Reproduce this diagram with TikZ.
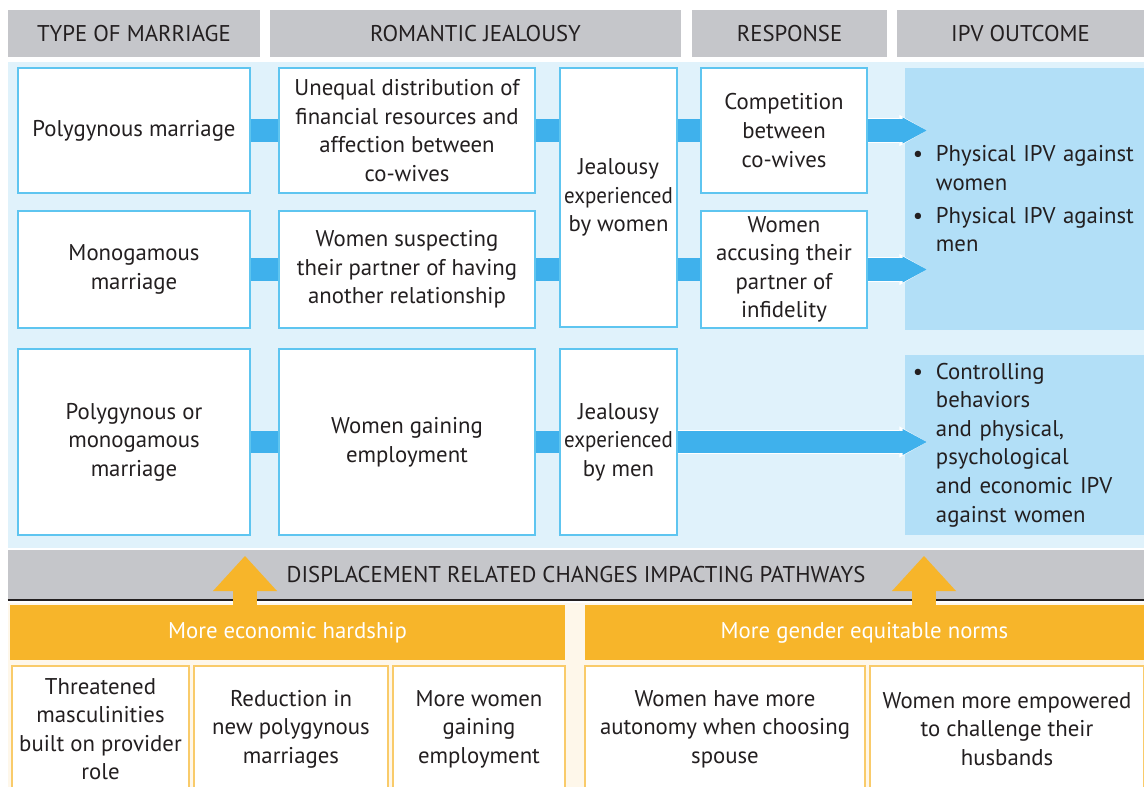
\documentclass[tikz,border=0pt]{standalone}
\usepackage{fontspec}
\setmainfont{PT Sans}
\usepackage{xcolor}
\usepackage{tikz}
\definecolor{headgray}{RGB}{197,198,202}
\definecolor{panelblue}{RGB}{224,242,251}
\definecolor{edgeblue}{RGB}{94,197,240}
\definecolor{barblue}{RGB}{63,177,236}
\definecolor{outblue}{RGB}{178,223,247}
\definecolor{hardorange}{RGB}{247,181,42}
\definecolor{edgeorange}{RGB}{249,203,106}
\definecolor{cream}{RGB}{254,247,234}
\definecolor{inkgray}{RGB}{35,31,32}
\usetikzlibrary{arrows.meta, calc}
\newcommand{\itemdot}{\makebox[0.575cm][l]{\textbullet}}
\newcommand{\itemgap}{\hspace*{0.575cm}}
\newcommand{\squeeze}[1]{\scalebox{0.92}[1]{#1}}

\begin{document}
\begin{tikzpicture}[x=0.025cm, y=-0.025cm,
    every node/.style={font=\fontsize{16.2}{20.3}\selectfont, text=inkgray, align=center, inner sep=0pt},
    header/.style={rectangle, fill=headgray, minimum height=1.175cm},
    bluebox/.style={rectangle, draw=edgeblue, fill=white, line width=1pt},
    outcome/.style={rectangle, fill=outblue, minimum width=5.975cm, text width=5.575cm, align=left},
    orangeband/.style={rectangle, fill=hardorange, minimum height=1.375cm, text=white},
    orangebox/.style={rectangle, draw=edgeorange, fill=white, line width=1pt, minimum height=3.15cm},
    link/.style={draw=barblue, line width=0.55cm},
    outlink/.style={link, -{Triangle[width=0.65cm, length=0.6cm, line width=0pt]},
        preaction={draw=white, line width=0.6cm, -{Triangle[width=0.78cm, length=0.68cm, line width=0pt]}}},
    push/.style={draw=hardorange, line width=0.6cm, -{Triangle[width=1.6cm, length=0.875cm, line width=0pt]}}
]
    \useasboundingbox (0,0) rectangle (1144,787);
    \fill[panelblue] (8,62) rectangle (1144,548);

    % column headers
    \node[header, minimum width=6.3cm] (h1) at (134,33.5) {TYPE OF MARRIAGE};
    \node[header, minimum width=10.275cm] (h2) at (475.5,33.5) {ROMANTIC JEALOUSY};
    \node[header, minimum width=4.875cm] (h3) at (789.5,33.5) {RESPONSE};
    \node[header, minimum width=6.175cm] (h4) at (1020.5,33.5) {IPV OUTCOME};

    % pathways
    \node[bluebox, minimum width=5.8cm, minimum height=3.125cm] (poly) at (134,130.5) {Polygynous marriage};
    \node[bluebox, minimum width=6.4cm, minimum height=3.125cm] (unequal) at (407,130.5) {Unequal distribution of\\financial resources and\\affection between\\co-wives};
    \node[bluebox, minimum width=2.925cm, minimum height=6.475cm] (jealw) at (618.5,197.5) {Jealousy\\\squeeze{experienced}\\by women};
    \node[bluebox, minimum width=4.15cm, minimum height=3.125cm] (compete) at (784,130.5) {Competition\\between\\co-wives};
    \node[bluebox, minimum width=5.8cm, minimum height=2.925cm] (mono) at (134,269.5) {Monogamous\\marriage};
    \node[bluebox, minimum width=6.4cm, minimum height=2.925cm] (suspect) at (407,269.5) {Women suspecting\\their partner of having\\another relationship};
    \node[bluebox, minimum width=4.15cm, minimum height=2.925cm] (accuse) at (784,269.5) {Women\\accusing their\\partner of\\infidelity};
    \node[bluebox, minimum width=5.8cm, minimum height=4.65cm] (either) at (134,442) {Polygynous or\\monogamous\\marriage};
    \node[bluebox, minimum width=6.4cm, minimum height=4.65cm] (employ) at (407,442) {Women gaining\\employment};
    \node[bluebox, minimum width=2.925cm, minimum height=4.65cm] (jealm) at (618.5,442) {Jealousy\\\squeeze{experienced}\\by men};

    \node[outcome, minimum height=6.55cm] (out1) at (1024.5,199) {\itemdot Physical IPV against\\\itemgap women\\[3pt]\itemdot Physical IPV against\\\itemgap men};
    \node[outcome, minimum height=4.5cm] (out2) at (1024.5,445) {\itemdot Controlling\\\itemgap behaviors\\\itemgap and physical,\\\itemgap psychological\\\itemgap and economic IPV\\\itemgap against women};

    \draw[link] (poly) -- (unequal);
    \draw[link] (unequal.east) -- (unequal.east -| jealw.west);
    \draw[link] (compete.west -| jealw.east) -- (compete.west);
    \draw[outlink] (compete.east) -- ($(compete.east -| out1.west)+(22,0)$);
    \draw[link] (mono) -- (suspect);
    \draw[link] (suspect.east) -- (suspect.east -| jealw.west);
    \draw[link] (accuse.west -| jealw.east) -- (accuse.west);
    \draw[outlink] (accuse.east) -- ($(accuse.east -| out1.west)+(22,0)$);
    \draw[link] (either) -- (employ);
    \draw[link] (employ) -- (jealm);
    \draw[outlink] (jealm.east) -- ($(jealm.east -| out2.west)+(22,0)$);

    % displacement changes
    \node[rectangle, fill=headgray, minimum width=28.4cm, minimum height=1.25cm] (displace) at (576,575) {DISPLACEMENT RELATED CHANGES IMPACTING PATHWAYS};
    \draw[line width=1.5pt, inkgray] (displace.south west) -- (displace.south east);
    \fill[cream] (8,603) rectangle (1144,787);

    \node[orangeband, minimum width=13.875cm] (hardship) at (287.5,632.5) {More economic hardship};
    \node[orangeband, minimum width=13.975cm] (equity) at (864.5,632.5) {More gender equitable norms};
    \node[orangebox, minimum width=4.425cm] (masc) at (100.5,729) {Threatened\\masculinities\\built on provider\\role};
    \node[orangebox, minimum width=4.85cm] (fewer) at (291,729) {Reduction in\\new polygynous\\marriages};
    \node[orangebox, minimum width=4.3cm] (work) at (479,729) {More women\\gaining\\employment};
    \node[orangebox, minimum width=7cm] (autonomy) at (725,729) {Women have more\\autonomy when choosing\\spouse};
    \node[orangebox, minimum width=6.85cm] (challenge) at (1007,729) {Women more empowered\\to challenge their\\husbands};

    \coordinate (tipL) at (245,556);
    \coordinate (tipR) at (924,556);
    \draw[push] (hardship.north -| tipL) -- (tipL);
    \draw[push] (equity.north -| tipR) -- (tipR);
\end{tikzpicture}
\end{document}
